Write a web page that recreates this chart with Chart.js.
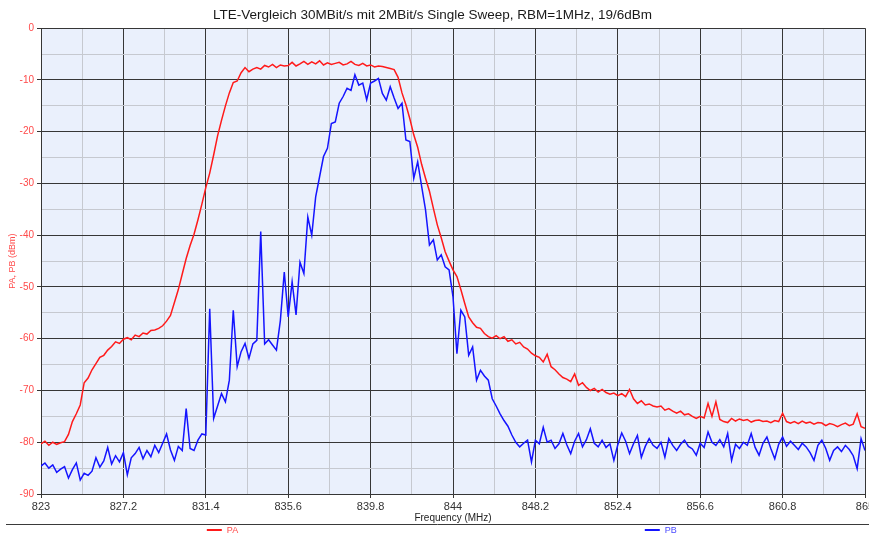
<!DOCTYPE html>
<html>
<head>
<meta charset="utf-8">
<script src="https://cdn.jsdelivr.net/npm/chart.js@4.4.1/dist/chart.umd.min.js"></script>
<style>
    html, body { margin: 0; padding: 0; background: #ffffff; overflow: hidden; }
    canvas { display: block; }
</style>
</head>
<body>
<canvas id="sweep" width="869" height="533"></canvas>
<script>
// Sweep: 823 MHz .. 865 MHz, one reading every 0.2 MHz
const sweepStart = 823;
const sweepStep = 0.2;

// PA trace (dBm), 10 readings per row = 2 MHz
const paValues = [
    -80.3, -79.8, -80.6, -80.0, -80.4, -80.1, -79.9, -78.5, -76.0, -74.5,
    -72.8, -68.5, -67.6, -66.0, -64.8, -63.6, -63.2, -62.2, -61.5, -60.6,
    -60.9, -60.1, -59.8, -60.2, -59.3, -59.6, -58.9, -59.1, -58.4, -58.3,
    -58.0, -57.5, -56.6, -55.5, -53.0, -50.5, -47.5, -44.5, -42.0, -39.8,
    -37.0, -34.0, -30.8, -28.0, -24.5, -20.8, -17.8, -15.0, -12.5, -10.5,
    -10.2, -8.6, -7.6, -8.4, -7.9, -7.6, -7.9, -7.2, -7.5, -7.0,
    -7.6, -7.1, -7.3, -7.2, -6.6, -7.3, -6.9, -6.4, -7.0, -6.5,
    -6.9, -6.3, -7.1, -6.7, -7.0, -6.8, -6.6, -7.1, -6.9, -6.4,
    -7.0, -7.2, -6.8, -7.3, -7.1, -7.5, -7.3, -7.4, -7.6, -7.8,
    -8.0, -9.5, -12.5, -14.8, -17.5, -20.6, -23.0, -26.3, -29.0, -31.5,
    -34.8, -38.0, -40.5, -43.2, -45.0, -46.7, -48.0, -50.5, -53.2, -55.8,
    -56.9, -57.8, -58.0, -59.0, -59.6, -59.9, -59.4, -60.0, -59.6, -60.5,
    -60.2, -61.0, -60.7, -61.6, -62.0, -62.8, -63.3, -63.6, -64.5, -63.0,
    -65.4, -66.0, -66.8, -67.5, -67.8, -68.3, -66.8, -69.0, -68.5, -69.4,
    -70.0, -69.6, -70.3, -69.8, -70.4, -70.7, -70.5, -71.0, -70.6, -71.2,
    -69.8, -71.6, -72.5, -72.0, -72.8, -72.6, -73.0, -73.2, -73.0, -73.8,
    -73.5, -74.0, -74.4, -74.0, -74.7, -74.5, -75.0, -75.4, -75.0, -75.3,
    -72.5, -75.0, -72.2, -75.6, -76.0, -76.2, -75.4, -75.9, -75.5, -75.8,
    -75.6, -76.1, -75.8, -75.7, -76.0, -75.9, -76.2, -75.8, -76.0, -74.4,
    -76.0, -76.3, -76.0, -76.4, -75.9, -76.3, -76.1, -76.5, -76.2, -76.3,
    -76.8, -76.4, -76.6, -77.0, -76.6, -76.3, -76.8, -76.5, -74.5, -77.0,
    -77.3
];

// PB trace (dBm)
const pbValues = [
    -84.6, -84.0, -85.0, -84.4, -85.8, -85.2, -84.7, -86.9, -85.3, -84.0,
    -87.3, -86.0, -86.4, -85.6, -83.0, -84.8, -83.6, -81.0, -84.2, -82.6,
    -83.8, -82.0, -86.3, -83.0, -82.2, -81.0, -83.2, -81.6, -82.8, -80.6,
    -82.0, -80.2, -78.4, -81.5, -83.5, -80.8, -81.6, -73.5, -81.2, -81.6,
    -79.6, -78.4, -78.6, -54.2, -75.4, -73.0, -70.6, -72.2, -68.0, -54.5,
    -65.4, -62.5, -60.9, -63.8, -61.0, -60.3, -39.3, -61.0, -60.2, -61.2,
    -62.2, -56.5, -47.1, -55.8, -49.0, -55.4, -45.2, -47.4, -36.5, -40.0,
    -32.6, -28.7, -24.8, -23.2, -18.4, -18.1, -14.5, -13.2, -11.6, -12.0,
    -9.0, -11.0, -10.6, -13.8, -10.6, -10.2, -9.7, -12.6, -13.9, -11.3,
    -13.5, -15.5, -14.5, -21.6, -21.9, -29.0, -25.8, -30.5, -35.1, -41.9,
    -40.9, -44.8, -43.8, -46.1, -46.7, -51.9, -62.9, -54.5, -55.8, -63.2,
    -61.6, -68.0, -66.1, -67.2, -68.0, -71.6, -73.0, -74.5, -75.8, -76.9,
    -78.6, -80.0, -80.9, -80.2, -79.6, -83.8, -79.6, -80.3, -77.1, -80.0,
    -79.6, -81.2, -80.3, -78.3, -80.5, -82.2, -79.8, -78.3, -80.9, -79.5,
    -77.4, -80.2, -80.9, -79.6, -81.0, -80.3, -83.5, -80.5, -78.2, -79.8,
    -82.2, -80.3, -78.7, -82.9, -80.8, -79.3, -80.6, -81.2, -80.0, -82.9,
    -79.3, -80.6, -81.6, -80.4, -79.6, -80.8, -81.3, -82.5, -80.2, -81.0,
    -78.0, -80.0, -80.6, -79.5, -80.9, -78.3, -83.5, -80.4, -81.2, -80.0,
    -80.6, -78.3, -81.0, -82.5, -80.2, -79.0, -81.2, -83.2, -80.4, -79.0,
    -80.8, -79.8, -80.6, -81.4, -80.2, -80.9, -82.0, -83.5, -80.6, -79.6,
    -81.2, -83.5, -81.6, -80.9, -81.8, -80.6, -81.4, -82.6, -85.1, -79.3,
    -81.6
];

const xTickLabels = ['823', '827.2', '831.4', '835.6', '839.8', '844', '848.2', '852.4', '856.6', '860.8', '865'];
const yTickLabels = ['-90', '-80', '-70', '-60', '-50', '-40', '-30', '-20', '-10', '0'];

const xMajor = xTickLabels.map(Number);
const yMajor = yTickLabels.map(Number);

const freqs = paValues.map((_, i) => +(sweepStart + i * sweepStep).toFixed(1));

const FONT = '"Liberation Sans", Arial, sans-serif';
const GRID_DARK = '#363636';
const GRID_LIGHT = '#c6c9d0';
const RED_TEXT = '#ff4a4a';

// major ticks plus one minor line half way between
function withMinor(major) {
    const out = [];
    major.forEach((v, i) => {
        out.push({ value: v, isMajor: true });
        if (i < major.length - 1) out.push({ value: (v + major[i + 1]) / 2, isMajor: false });
    });
    return out;
}

const isMajorTick = (ctx) => ctx.tick && ctx.tick.isMajor;

// plot background
Chart.register({
    id: 'plotBackground',
    beforeDraw(chart) {
        const { ctx, chartArea: a } = chart;
        ctx.save();
        ctx.fillStyle = '#eaf0fc';
        ctx.fillRect(a.left, a.top, a.right - a.left, a.bottom - a.top);
        ctx.restore();
    }
});

// separator line and two-column legend under the axis
Chart.register({
    id: 'bottomLegend',
    afterDraw(chart) {
        const { ctx, width } = chart;
        const y = 524.5;
        ctx.save();
        ctx.strokeStyle = '#3a3a3a';
        ctx.lineWidth = 1;
        ctx.beginPath();
        ctx.moveTo(6, y);
        ctx.lineTo(width, y);
        ctx.stroke();

        const spots = [0.238, 0.742];
        const textColors = [RED_TEXT, '#4a4aff'];
        ctx.font = `9px ${FONT}`;
        ctx.textBaseline = 'middle';
        chart.data.datasets.forEach((ds, i) => {
            const x = width * spots[i];
            ctx.strokeStyle = ds.borderColor;
            ctx.lineWidth = 2;
            ctx.beginPath();
            ctx.moveTo(x, 530);
            ctx.lineTo(x + 15, 530);
            ctx.stroke();
            ctx.fillStyle = textColors[i];
            ctx.fillText(ds.label, x + 20, 530.5);
        });
        ctx.restore();
    }
});

new Chart(document.getElementById('sweep'), {
    type: 'line',
    data: {
        datasets: [
            {
                label: 'PA',
                data: freqs.map((f, i) => ({ x: f, y: paValues[i] })),
                borderColor: '#ff1a1a',
                borderWidth: 1.5,
                pointRadius: 0,
                tension: 0
            },
            {
                label: 'PB',
                data: freqs.map((f, i) => ({ x: f, y: pbValues[i] })),
                borderColor: '#1414ff',
                borderWidth: 1.5,
                pointRadius: 0,
                tension: 0
            }
        ]
    },
    options: {
        responsive: false,
        animation: false,
        layout: {
            padding: { left: 0, right: 4, top: 0, bottom: 9 }
        },
        plugins: {
            legend: { display: false },
            tooltip: { enabled: false },
            title: {
                display: true,
                text: 'LTE-Vergleich 30MBit/s mit 2MBit/s Single Sweep, RBM=1MHz, 19/6dBm',
                color: '#1a1a1a',
                font: { size: 13.5, weight: 'normal', family: FONT },
                padding: { top: 7, bottom: 5 }
            }
        },
        scales: {
            x: {
                type: 'linear',
                min: 823,
                max: 865,
                afterBuildTicks(scale) {
                    scale.ticks = withMinor(xMajor);
                },
                afterFit(scale) {
                    scale.height = 30;
                    scale.paddingLeft = 0;
                    scale.paddingRight = 0;
                },
                ticks: {
                    autoSkip: false,
                    maxRotation: 0,
                    padding: 2,
                    color: '#333333',
                    font: { size: 11, family: FONT },
                    callback(value) {
                        const k = xMajor.findIndex(m => Math.abs(m - value) < 1e-6);
                        return k >= 0 ? xTickLabels[k] : '';
                    }
                },
                grid: {
                    color: (ctx) => isMajorTick(ctx) ? GRID_DARK : GRID_LIGHT,
                    tickColor: (ctx) => isMajorTick(ctx) ? GRID_DARK : 'rgba(0,0,0,0)',
                    tickLength: 4,
                    lineWidth: 1
                },
                border: { color: GRID_DARK, width: 1 },
                title: {
                    display: true,
                    text: 'Frequency (MHz)',
                    color: '#222222',
                    font: { size: 10, family: FONT },
                    padding: { top: 0, bottom: 0 }
                }
            },
            y: {
                min: -90,
                max: 0,
                afterBuildTicks(scale) {
                    scale.ticks = withMinor(yMajor);
                },
                afterFit(scale) {
                    scale.width = 41;
                    scale.paddingTop = 0;
                    scale.paddingBottom = 0;
                },
                ticks: {
                    autoSkip: false,
                    padding: 3,
                    color: RED_TEXT,
                    font: { size: 10, family: FONT },
                    callback(value) {
                        const k = yMajor.findIndex(m => Math.abs(m - value) < 1e-6);
                        return k >= 0 ? yTickLabels[k] : '';
                    }
                },
                grid: {
                    color: (ctx) => isMajorTick(ctx) ? GRID_DARK : GRID_LIGHT,
                    tickColor: (ctx) => isMajorTick(ctx) ? GRID_DARK : 'rgba(0,0,0,0)',
                    tickLength: 4,
                    lineWidth: 1
                },
                border: { color: GRID_DARK, width: 1 },
                title: {
                    display: true,
                    text: 'PA, PB (dBm)',
                    color: RED_TEXT,
                    font: { size: 9, family: FONT },
                    padding: { top: 7, bottom: 0 }
                }
            }
        }
    }
});
</script>
</body>
</html>
